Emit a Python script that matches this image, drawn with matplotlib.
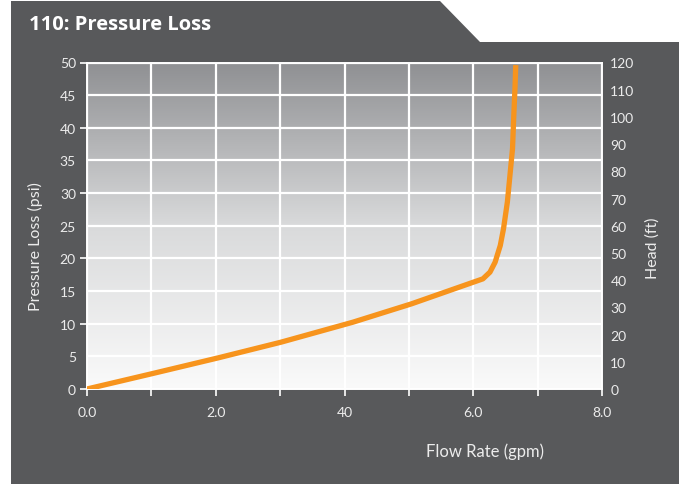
import matplotlib
matplotlib.use("Agg")
import matplotlib.pyplot as plt
import numpy as np
from matplotlib.patches import Polygon
from matplotlib.colors import LinearSegmentedColormap

# ---- data ----
flow_gpm = [0.0, 0.99, 2.03, 3.01, 4.13, 5.04, 6.15, 6.26, 6.34, 6.42, 6.47,
            6.53, 6.57, 6.61, 6.63, 6.65, 6.66]
pressure_psi = [0.0, 2.30, 4.75, 7.16, 10.23, 13.04, 16.87, 17.9, 19.43, 21.98,
                24.54, 28.63, 32.71, 36.81, 41.92, 46.52, 49.6]

x_ticks = [0, 1, 2, 3, 4, 5, 6, 7, 8]
x_tick_labels = ["0.0", "", "2.0", "", "40", "", "6.0", "", "8.0"]
y_major = [0, 10, 20, 30, 40, 50]
y_minor = [5, 15, 25, 35, 45]
head_ticks = list(range(0, 130, 10))

title = "110: Pressure Loss"
x_label = "Flow Rate (gpm)"
y_label = "Pressure Loss (psi)"
y2_label = "Head (ft)"

# ---- style ----
W, H = 679, 485
DARK = "#58595b"
ORANGE = "#f7941d"
TXT = "#ececec"
FONT = ["Lato", "DejaVu Sans"]
plt.rcParams["font.family"] = FONT

fig = plt.figure(figsize=(W / 100, H / 100), dpi=100)
fig.patch.set_facecolor("white")

def fx(px):
    return px / W

def fy(py):
    return 1 - py / H

panel = Polygon([(fx(11), fy(2)), (fx(440), fy(2)), (fx(480), fy(43)),
                 (fx(679), fy(43)), (fx(679), fy(485)), (fx(11), fy(485))],
                closed=True, transform=fig.transFigure, facecolor=DARK,
                edgecolor="none", zorder=-5)
fig.patches.append(panel)

fig.text(fx(29), fy(29.5), title, color="white", fontsize=14.5, fontweight="bold",
         family=["Open Sans", "DejaVu Sans"], ha="left", va="baseline")

left, right, top, bottom = 87, 602, 63.5, 390
ax = fig.add_axes([fx(left), fy(bottom), (right - left) / W, (bottom - top) / H])
ax.set_zorder(2)
ax.set_facecolor("none")

# gradient background
grad = np.linspace(0, 1, 256).reshape(-1, 1)
cmap = LinearSegmentedColormap.from_list("g", ["#fafafa", "#d9dadb", "#8f9093"])
ax.imshow(grad, cmap=cmap, aspect="auto", extent=[0, 1, 0, 1], origin="lower",
          transform=ax.transAxes, zorder=0)

ax.set_xlim(0, 8)
ax.set_ylim(0, 50)

ax.set_xticks(x_ticks)
ax.set_xticklabels(x_tick_labels)
ax.set_yticks(y_major)
ax.set_yticklabels([str(v) for v in y_major])
ax.set_yticks(y_minor, minor=True)
ax.set_yticklabels([str(v) for v in y_minor], minor=True)

ax.grid(True, which="both", color="white", linewidth=1.6, zorder=1)
ax.set_axisbelow(False)
for s in ax.spines.values():
    s.set_color("white")
    s.set_linewidth(1.4)

ax.tick_params(axis="x", colors="white", labelcolor=TXT, length=5, width=1.2,
               labelsize=10, pad=7)
ax.tick_params(axis="y", which="major", colors="white", labelcolor=TXT, length=5,
               width=1.2, labelsize=10, pad=3)
ax.tick_params(axis="y", which="minor", colors="white", labelcolor=TXT, length=0,
               labelsize=10, pad=8)

ax.plot(flow_gpm, pressure_psi, color=ORANGE, linewidth=3.8, solid_capstyle="butt",
        solid_joinstyle="round", zorder=3)

ax2 = ax.twinx()
ax2.set_zorder(3)
ax2.set_ylim(0, 120)
ax2.set_yticks(head_ticks)
ax2.set_yticklabels([str(v) for v in head_ticks])
ax2.tick_params(axis="y", length=0, labelcolor=TXT, labelsize=10, pad=6)
for s in ax2.spines.values():
    s.set_visible(False)

fig.text(fx(35), fy(247), y_label, color=TXT, fontsize=11.5, rotation=90,
         ha="center", va="center")
fig.text(fx(653), fy(248), y2_label, color=TXT, fontsize=11.5, rotation=90,
         ha="center", va="center")
fig.text(fx(485), fy(452), x_label, color=TXT, fontsize=12, ha="center", va="center")

fig.savefig("out.png", dpi=100, facecolor=fig.get_facecolor())
